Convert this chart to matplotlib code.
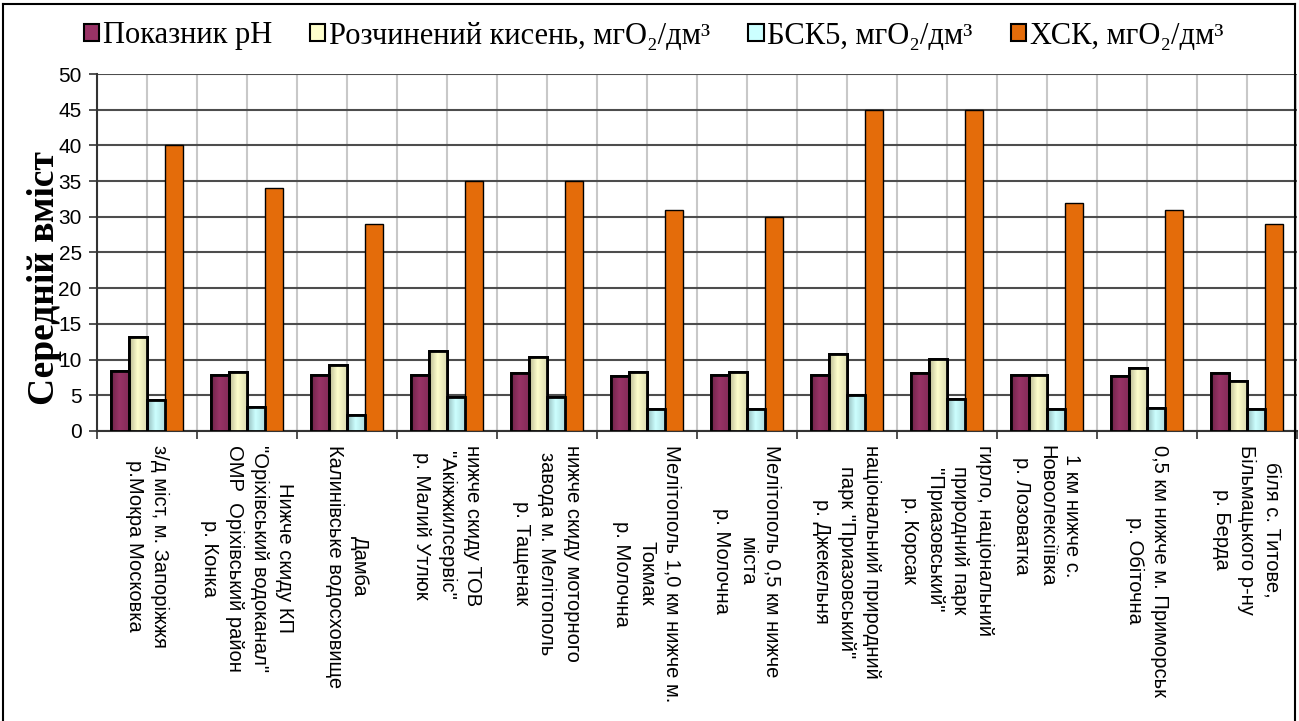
import numpy as np
import matplotlib
matplotlib.use("Agg")
import matplotlib.pyplot as plt
from matplotlib.lines import Line2D
from matplotlib.colors import to_rgb

# sampling points (rotated labels under the axis)
sites = [
    "з/д міст, м. Запоріжжя\nр.Мокра Московка",
    "Нижче скиду КП\n\"Оріхівський водоканал\"\nОМР  Оріхівський район\nр. Конка",
    "Дамба\nКалинівське водосховище",
    "нижче скиду ТОВ\n\"Акіжжилсервіс\"\nр. Малий Утлюк",
    "нижче скиду моторного\nзавода м. Мелітополь\nр. Тащенак",
    "Мелітополь 1,0 км нижче м.\nТокмак\nр. Молочна",
    "Мелітополь 0,5 км нижче\nміста\nр. Молочна",
    "національний природний\nпарк \"Приазовський\"\nр. Джекельня",
    "гирло, національний\nприродний парк\n\"Приазовський\"\nр. Корсак",
    "1 км нижче с.\nНовоолексіївка\nр. Лозоватка",
    "0,5 км нижче м. Приморськ\nр. Обіточна",
    "біля с. Титове,\nБільмацького р-ну\nр. Берда",
]

ph = [8.4, 7.9, 7.9, 7.9, 8.1, 7.7, 7.9, 7.9, 8.1, 7.9, 7.7, 8.1]
oxygen = [13.1, 8.25, 9.2, 11.15, 10.4, 8.25, 8.25, 10.8, 10.05, 7.9, 8.8, 7.0]
bod5 = [4.4, 3.35, 2.3, 4.8, 4.8, 3.05, 3.05, 5.0, 4.45, 3.05, 3.2, 3.05]
cod = [40, 34, 29, 35, 35, 31, 30, 45, 45, 32, 31, 29]

series_names = ["Показник pH",
                "Розчинений кисень, мгO₂/дм³",
                "БСК5, мгO₂/дм³",
                "ХСК, мгO₂/дм³"]
colors = ["#993366", "#FFFFCC", "#CCFFFF", "#E46C0A"]

fig = plt.figure(figsize=(12.99, 7.21), dpi=100)
ax = fig.add_axes([97/1299, 1-431/721, 1200/1299, 357/721])

x = np.arange(len(sites))
w = 0.182
data = [ph, oxygen, bod5, cod]

# excel-like horizontal shading for the first three series
shade = np.interp(np.linspace(0, 1, 64), [0, 0.45, 1], [0.72, 1.0, 0.85])

for k, vals in enumerate(data):
    lw = 1.0 if k == 3 else 2.0
    bars = ax.bar(x + (k - 1.5)*w, vals, w, color=colors[k], edgecolor="black",
                  linewidth=lw, zorder=3)
    if k == 3:
        continue
    rgb = np.array(to_rgb(colors[k]))
    grad = np.clip(shade[:, None] * rgb[None, :], 0, 1)[None, :, :]
    for b in bars:
        x0, y0 = b.get_x(), b.get_y()
        im = ax.imshow(grad, extent=(x0, x0 + b.get_width(), y0, y0 + b.get_height()),
                       aspect="auto", zorder=3.5, interpolation="bilinear")
        im.set_clip_path(b)
        edge = plt.Rectangle((x0, y0), b.get_width(), b.get_height(), fill=False,
                             edgecolor="black", linewidth=lw, zorder=4)
        ax.add_patch(edge)

ax.set_xlim(-0.5, len(sites) - 0.5)
ax.set_ylim(0, 50)
ax.set_yticks(np.arange(0, 51, 5))
ax.set_xticks(np.arange(-0.5, len(sites), 1))
ax.set_xticklabels([])
ax.set_xticks(x, sites, minor=True)
ax.tick_params(axis="x", which="minor", length=0, pad=10)
ax.tick_params(axis="x", which="major", length=6, width=1.2, color="#333333")
ax.tick_params(axis="y", length=6, width=1.2, color="#333333", pad=5)
for lab in ax.get_xticklabels(minor=True):
    lab.set_rotation(-90)
    lab.set_va("top")
    lab.set_ha("center")
    lab.set_multialignment("center")
    lab.set_fontfamily("Liberation Sans")
    lab.set_fontsize(14.5)
    lab.set_linespacing(1.4)
for lab in ax.get_yticklabels():
    lab.set_fontfamily("Liberation Sans")
    lab.set_fontsize(15)

ax.yaxis.grid(True, color="#4d4d4d", linewidth=1.5, zorder=1)
ax.xaxis.grid(True, which="both", color="#c8c8c8", linewidth=1.5, zorder=0)
ax.set_axisbelow(True)
for s in ["top", "right"]:
    ax.spines[s].set_visible(False)
for s in ["left", "bottom"]:
    ax.spines[s].set_color("#333333")
    ax.spines[s].set_linewidth(1.5)

fig.text(45/1299, 1-278/721, "Середній вміст", rotation=90, ha="center",
         va="center", fontsize=27, fontweight="bold", family="Liberation Serif")

handles = [plt.Rectangle((0, 0), 1, 1, facecolor=c, edgecolor="black", linewidth=1.5)
           for c in colors]
fig.legend(handles, series_names, loc="center", bbox_to_anchor=(0.503, 1-36/721),
           ncol=4, frameon=False, handlelength=0.5, handleheight=0.5,
           handletextpad=0.12, columnspacing=1.25,
           prop={"family": ["Liberation Serif", "DejaVu Serif"], "size": 22})

# chart frame
fig.add_artist(Line2D([3/1299, 1295/1299], [1-4/721, 1-4/721], color="black", lw=1.5))
fig.add_artist(Line2D([3/1299, 3/1299], [0, 1-4/721], color="black", lw=1.5))
fig.add_artist(Line2D([1295/1299, 1295/1299], [0, 1-4/721], color="black", lw=1.5))

fig.savefig("out.png", dpi=100)
